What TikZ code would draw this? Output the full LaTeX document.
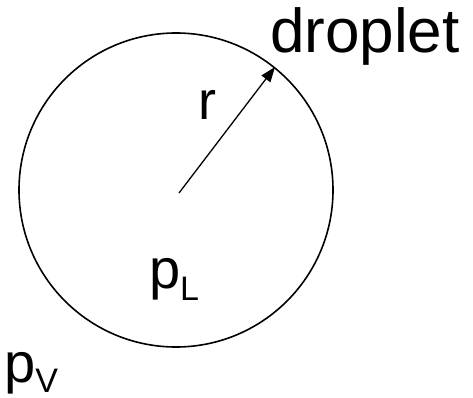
\documentclass[tikz,border=0pt]{standalone}
\usepackage{fontspec}
\setmainfont{Liberation Sans}
\usetikzlibrary{arrows.meta,calc}
\begin{document}
\begin{tikzpicture}[x=1pt,y=-1pt,
  lbl/.style={inner sep=0pt,outer sep=0pt,anchor=base west},
  line/.style={line width=1.6pt}]
\useasboundingbox (0,0) rectangle (473,398);
\coordinate (c) at (176,190);
\coordinate (s) at (179,193);
\draw[line] (c) circle[radius=157];
\coordinate (tip) at ($(c)+(99,-123)$);
\draw[line width=1.3pt,-{Triangle[length=15pt,width=11pt]}] (s) -- (tip);
\node[lbl] (drop) at (270,53) {\fontsize{62}{62}\selectfont droplet};
\node[lbl] (r) at (198.5,120) {\fontsize{54}{54}\selectfont r};
\node[lbl] (pL) at (149,288) {\fontsize{56}{56}\selectfont p\raisebox{-12pt}{\fontsize{34}{34}\selectfont L}};
\node[lbl] (pV) at (4.3,382) {\fontsize{56}{56}\selectfont p\raisebox{-10pt}{\fontsize{34}{34}\selectfont V}};
\end{tikzpicture}
\end{document}
